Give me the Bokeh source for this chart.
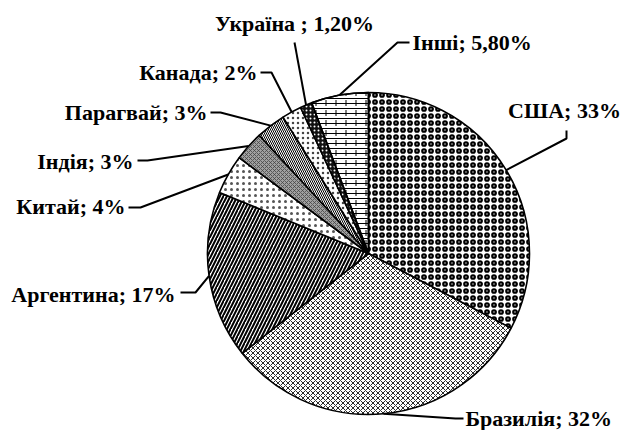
import math
from bokeh.plotting import figure
from bokeh.models import Range1d, ColumnDataSource
from bokeh.core.properties import value
from bokeh.embed import file_html
from bokeh.resources import INLINE

# ---- data ----
countries = ["США", "Бразилія", "Аргентина", "Китай", "Індія", "Парагвай", "Канада", "Україна", "Інші"]
shares = [33, 32, 17, 4, 3, 3, 2, 1.2, 5.8]
labels = ["США; 33%", "Бразилія; 32%", "Аргентина; 17%", "Китай; 4%", "Індія; 3%",
          "Парагвай; 3%", "Канада; 2%", "Україна ; 1,20%", "Інші; 5,80%"]

# ---- styles (per slice) ----
fill_colors = ["white", "white", "white", "white", "#a0a0a0", "white", "white", "#111111", "white"]
hatch_patterns = ["ring", "diagonal_cross", "right_diagonal_line", "dot", "diagonal_cross",
                  "left_diagonal_line", "dot", "dot", "horizontal_line"]
hatch_scales = [7, 5, 7, 6, 4, 4, 5, 4, 5]
hatch_weights = [2.2, 0.9, 2, 1.2, 0.8, 1, 1, 1.2, 1]
hatch_colors = ["black", "#111111", "black", "#555555", "#444444", "black", "#444444", "white", "black"]

# ---- layout (page pixel coordinates) ----
W, H = 625, 430
CX, CY, R = 368, 253, 161
# label anchor (x, y, align) and leader start/elbow points
label_layout = [
    (564, 110, "center", (566, 130), (566, 138)),
    (465, 418, "left", (463, 418), (455, 418)),
    (175, 294, "right", (180, 292), (195, 292)),
    (125, 206, "right", (128, 207), (140, 207)),
    (133, 161, "right", (137, 160), (147, 160)),
    (207, 112, "right", (210, 112), (220, 112)),
    (257, 72, "right", (260, 72), (271, 72)),
    (294, 23, "center", (294, 42), (294, 42)),
    (412, 42, "left", (409, 42), (397, 42)),
]


def px(X, Y):
    return X, H - Y


p = figure(width=W, height=H, x_range=Range1d(0, W), y_range=Range1d(0, H),
           output_backend="svg", toolbar_location=None, min_border=0)
p.axis.visible = False
p.grid.visible = False
p.outline_line_color = None
p.background_fill_color = "white"

total = sum(shares)
cum = [0]
for s in shares:
    cum.append(cum[-1] + s)
starts = [math.pi / 2 - 2 * math.pi * c / total for c in cum[:-1]]
ends = [math.pi / 2 - 2 * math.pi * c / total for c in cum[1:]]
mids = [(a + b) / 2 for a, b in zip(starts, ends)]

cx, cy = px(CX, CY)
src = ColumnDataSource(dict(
    x=[cx] * len(shares), y=[cy] * len(shares), start=starts, end=ends,
    fill=fill_colors, hp=hatch_patterns, hs=hatch_scales, hw=hatch_weights, hc=hatch_colors,
))
p.wedge(x="x", y="y", radius=R, start_angle="start", end_angle="end", direction="clock",
        source=src, fill_color="fill", hatch_pattern="hp", hatch_scale="hs",
        hatch_weight="hw", hatch_color="hc",
        line_color="black", line_width=1.6)

# brick-like overlay (short vertical ticks) for the last slice ("Інші")
p.wedge(x=cx, y=cy, radius=R, start_angle=starts[-1], end_angle=ends[-1], direction="clock",
        fill_color=None, hatch_pattern="vertical_dash", hatch_scale=10, hatch_weight=1,
        hatch_color="black", line_color="black", line_width=1.6)

# leader lines and labels
for lab, m, (tx, ty, al, a, b) in zip(labels, mids, label_layout):
    ex = cx + R * math.cos(m)
    ey = cy + R * math.sin(m)
    p1 = px(*a)
    p2 = px(*b)
    p.line([p1[0], p2[0], ex], [p1[1], p2[1], ey], line_color="black", line_width=2)
    x, y = px(tx, ty)
    p.text(x=[x], y=[y], text=[lab], text_font=value("Liberation Serif"), text_font_style="bold",
           text_font_size="22px", text_align=al, text_baseline="middle", text_color="black")

open("out.html", "w").write(file_html(p, INLINE))
